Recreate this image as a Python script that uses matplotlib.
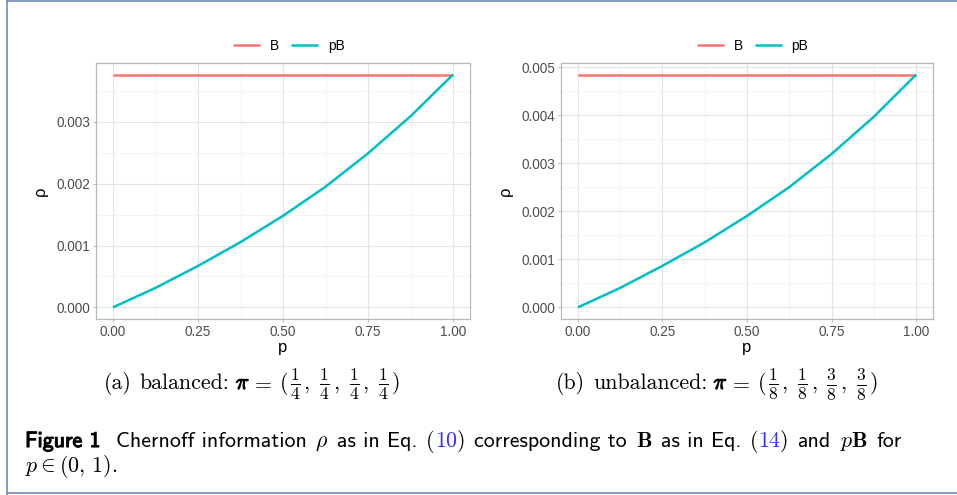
import matplotlib
matplotlib.use('Agg')
import matplotlib.pyplot as plt
import matplotlib.patheffects as pe
from matplotlib.lines import Line2D
from matplotlib.ticker import MultipleLocator, FormatStrFormatter

# values
p_vals = [0.0, 0.125, 0.25, 0.375, 0.5, 0.625, 0.75, 0.875, 1.0]
rho_pB_bal = [0.0, 0.000315, 0.000670, 0.001055, 0.001480, 0.001950, 0.002490, 0.003090, 0.003763]
rho_pB_unbal = [0.0, 0.000405, 0.000865, 0.001355, 0.001905, 0.002505, 0.003195, 0.003970, 0.004848]
b_x = [0.0, 1.0]
rho_B_bal = [0.003763, 0.003763]
rho_B_unbal = [0.004848, 0.004848]

x_ticks = [0.0, 0.25, 0.5, 0.75, 1.0]
y_ticks_bal = [0.0, 0.001, 0.002, 0.003]
y_ticks_unbal = [0.0, 0.001, 0.002, 0.003, 0.004, 0.005]
series_names = ['B', 'pB']

RED = '#F8766D'
TEAL = '#00BFC4'
W, H = 957, 495

plt.rcParams['font.family'] = ['Liberation Sans', 'DejaVu Sans']

fig = plt.figure(figsize=(W / 100, H / 100), dpi=100)


def px_box(x0, y0, x1, y1):
    # pixel box (top-left origin) -> figure fraction rect
    return [x0 / W, 1 - y1 / H, (x1 - x0) / W, (y1 - y0) / H]


def draw_panel(ax, b_vals, pb_vals, y_ticks, y_minor):
    ax.plot(b_x, b_vals, color=RED, lw=1.8, solid_capstyle='butt', label=series_names[0])
    ax.plot(p_vals, pb_vals, color=TEAL, lw=1.8, solid_capstyle='butt',
            solid_joinstyle='round', label=series_names[1])

    top = max(b_vals)
    ax.set_xlim(-0.05, 1.05)
    ax.set_ylim(-0.05 * top, 1.05 * top)

    ax.set_xticks(x_ticks)
    ax.set_yticks(y_ticks)
    ax.xaxis.set_minor_locator(MultipleLocator(0.125))
    ax.yaxis.set_minor_locator(MultipleLocator(y_minor))
    ax.xaxis.set_major_formatter(FormatStrFormatter('%.2f'))
    ax.yaxis.set_major_formatter(FormatStrFormatter('%.3f'))

    ax.grid(True, which='major', color='#e4e4e4', lw=0.8)
    ax.grid(True, which='minor', color='#f0f0f0', lw=0.5)
    ax.set_axisbelow(True)
    for sp in ax.spines.values():
        sp.set_color('#b8b8b8')
        sp.set_linewidth(0.9)

    ax.tick_params(which='major', length=2.5, width=0.6, color='#b3b3b3',
                   labelsize=9.8, labelcolor='#4d4d4d', pad=1.5)
    ax.tick_params(which='minor', length=0)

    ax.set_xlabel('p', fontsize=12, labelpad=1)
    ax.set_ylabel('ρ', fontsize=12, labelpad=6)

    ax.legend(loc='center', bbox_to_anchor=(0.515, 1.066), ncol=2, frameon=False,
              fontsize=9.8, handlelength=2.0, handletextpad=0.7, columnspacing=0.9,
              borderaxespad=0)


ax1 = fig.add_axes(px_box(96, 63, 470, 319))
draw_panel(ax1, rho_B_bal, rho_pB_bal, y_ticks_bal, 0.0005)

ax2 = fig.add_axes(px_box(561, 63, 933, 319))
draw_panel(ax2, rho_B_unbal, rho_pB_unbal, y_ticks_unbal, 0.0005)

renderer = fig.canvas.get_renderer()


def put_run(x_px, y_px, pieces):
    # lay text pieces side by side on one baseline
    for s, style, gap in pieces:
        t = fig.text(x_px / W, 1 - y_px / H, s, ha='left', va='baseline', **style)
        x_px += t.get_window_extent(renderer).width + gap
    return x_px


bold = [pe.withStroke(linewidth=0.8, foreground='black')]

# sub captions
sub = 15.8
sub_rm = dict(family='cmr10', fontsize=sub)
sub_math = dict(math_fontfamily='cm', fontsize=sub)
sub_frac = dict(math_fontfamily='cm', fontsize=18)
sub_bold = dict(math_fontfamily='cm', fontsize=sub, path_effects=bold)
for x0, tag, word, fracs in [
        (104, '(a)', 'balanced:', [('1', '4'), ('1', '4'), ('1', '4'), ('1', '4')]),
        (556, '(b)', 'unbalanced:', [('1', '8'), ('1', '8'), ('3', '8'), ('3', '8')])]:
    pieces = [(tag, sub_rm, 8), (word, sub_rm, 6),
              (r'$\pi$', sub_bold, 1), (r'$=$', sub_math, 7), ('(', sub_rm, 1.5)]
    for i, (num, den) in enumerate(fracs):
        pieces.append((r'$\frac{%s}{%s}$' % (num, den), sub_frac, 3))
        if i < len(fracs) - 1:
            pieces.append((',', sub_rm, 9.5))
    pieces.append((')', sub_rm, 0))
    put_run(x0, 389, pieces)

# figure caption
cap = 15.8
sf = dict(family='cmss10', fontsize=cap)
rm = dict(family='cmr10', fontsize=cap)
mt = dict(math_fontfamily='cm', fontsize=cap)
blue = dict(family='cmr10', fontsize=cap, color='#3030ff')
sp = 8.8
put_run(25, 447, [
    ('Figure 1', dict(sf, path_effects=bold), 15),
    ('Chernoff information', sf, sp),
    (r'$\rho$', mt, sp),
    ('as in Eq.', sf, sp),
    ('(', rm, 0), ('10', blue, 0), (')', rm, sp),
    ('corresponding to', sf, sp),
    (r'$\mathbf{B}$', mt, sp),
    ('as in Eq.', sf, sp),
    ('(', rm, 0), ('14', blue, 0), (')', rm, sp),
    ('and', sf, sp),
    (r'$p\mathbf{B}$', mt, sp),
    ('for', sf, 0),
])
put_run(25, 472, [(r'$p \in (0,\,1).$', mt, 0)])

# frame around the figure
frame = '#6f8db2'
fig.add_artist(Line2D([7 / W, 7 / W], [0, 1], color=frame, lw=1.2))
fig.add_artist(Line2D([7 / W, 1], [1 - 0.6 / H, 1 - 0.6 / H], color=frame, lw=1.2))
fig.add_artist(Line2D([7 / W, 1], [1 - 493 / H, 1 - 493 / H], color=frame, lw=1.2))

fig.savefig('out.png', dpi=100)
